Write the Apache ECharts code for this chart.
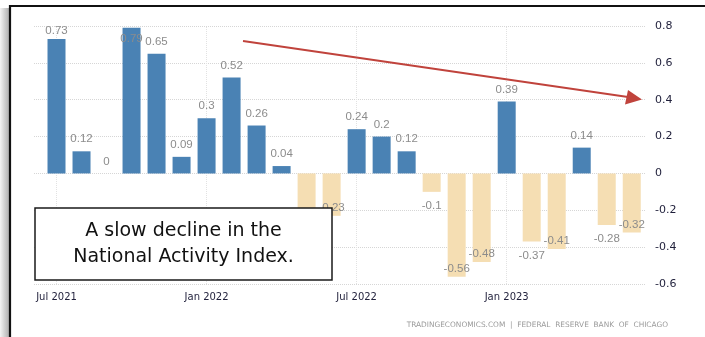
<!DOCTYPE html>
<html><head><meta charset="utf-8">
<script src="https://cdn.jsdelivr.net/npm/echarts@6/dist/echarts.min.js"></script>
<style>html,body{margin:0;padding:0;background:#fff}#c{width:705px;height:337px}</style>
</head><body><div id="c"></div>
<script>
const months = ['Jul 2021','Aug 2021','Sep 2021','Oct 2021','Nov 2021','Dec 2021',
  'Jan 2022','Feb 2022','Mar 2022','Apr 2022','May 2022','Jun 2022',
  'Jul 2022','Aug 2022','Sep 2022','Oct 2022','Nov 2022','Dec 2022',
  'Jan 2023','Feb 2023','Mar 2023','Apr 2023','May 2023','Jun 2023'];
const values = [0.73,0.12,0,0.79,0.65,0.09,0.3,0.52,0.26,0.04,-0.19,-0.23,
  0.24,0.2,0.12,-0.1,-0.56,-0.48,0.39,-0.37,-0.41,0.14,-0.28,-0.32];
const labelPos = ['top','top','top','insideTop','top','top','top','top','top','top','bottom','insideBottom',
  'top','top','top','bottom','insideBottom','insideBottom','top','bottom','insideBottom','top','bottom','insideBottom'];
const tickLabels = ['Jul 2021','Jan 2022','Jul 2022','Jan 2023'];
const yTicks = [-0.6,-0.4,-0.2,0,0.2,0.4,0.6,0.8];
const titleLines = ['A slow decline in the','National Activity Index.'];
const sourceText = 'TRADINGECONOMICS.COM  |  FEDERAL  RESERVE  BANK  OF  CHICAGO';

const chart = echarts.init(document.getElementById('c'));
const barData = values.map((v,i)=>{
  const pos = labelPos[i];
  let dist = 6;
  if (i===0) dist = 2;
  if (pos==='insideTop') dist = 5;
  if (pos==='insideBottom') dist = 2;
  if (pos==='bottom') dist = 8;
  return {
    value:[i,v],
    itemStyle:{color: v>=0 ? '#4a82b4' : '#f5deb3'},
    label:{position:pos, distance:dist}
  };
});
const vLines = tickLabels.map(t=>({xAxis: months.indexOf(t), label:{formatter:t}}));

chart.setOption({
  animation:false,
  backgroundColor:'transparent',
  grid:{left:34,right:60,top:26,bottom:53},
  xAxis:{type:'value',min:-0.9,max:23.53,show:false},
  yAxis:{type:'value',position:'right',min:-0.6,max:0.8,interval:0.2,
    axisLine:{show:false},axisTick:{show:false},
    axisLabel:{margin:10,color:'#1f1f3a',fontSize:11,fontFamily:'DejaVu Sans',
      formatter:v=>{const r=Math.round(v*10)/10; return yTicks.includes(r)? String(r):'';}},
    splitLine:{lineStyle:{color:'#d6d6d6',type:'dotted',width:1}}
  },
  series:[{
    type:'line',
    data:[],
    z:1,
    markLine:{
      silent:true,symbol:'none',z:0,
      lineStyle:{color:'#e2e2e2',type:'dotted',width:1},
      label:{position:'start',distance:8,color:'#1f1f3a',fontSize:10,fontFamily:'DejaVu Sans'},
      data:vLines
    }
  },{
    type:'bar',
    data:barData,
    barWidth:18,
    z:3,
    label:{show:true,color:'#8c8c8c',fontSize:11.5,fontFamily:'Liberation Sans',
      formatter:p=>String(p.value[1])}
  }],
  graphic:[
    {type:'rect',shape:{x:0,y:8,width:10,height:340},
      style:{fill:new echarts.graphic.LinearGradient(0,0,1,0,[{offset:0,color:'#f4f4f4'},{offset:1,color:'#a8a8a8'}])},z:-10,silent:true},
    {type:'rect',shape:{x:10,y:6,width:720,height:360},
      style:{fill:'none',stroke:'#111',lineWidth:2.2},z:50,silent:true},
    {type:'polyline',shape:{points:[[243,41],[628,97]]},
      style:{stroke:'#c0433c',lineWidth:2},z:40,silent:true},
    {type:'polygon',shape:{points:[[642,99.5],[625,104.5],[628,90]]},
      style:{fill:'#c0433c'},z:40,silent:true},
    {type:'rect',shape:{x:35,y:208,width:297,height:72},
      style:{fill:'#fff',stroke:'#1a1a1a',lineWidth:1.5},z:60,silent:true},
    {type:'text',x:183.5,y:231.5,style:{text:titleLines[0],fill:'#111',fontSize:19,fontFamily:'DejaVu Sans',align:'center',verticalAlign:'middle'},z:61,silent:true},
    {type:'text',x:183.5,y:257,style:{text:titleLines[1],fill:'#111',fontSize:19,fontFamily:'DejaVu Sans',align:'center',verticalAlign:'middle'},z:61,silent:true},
    {type:'text',x:668,y:325,style:{text:sourceText,fill:'#9a9a9a',fontSize:7.4,fontFamily:'DejaVu Sans',align:'right',verticalAlign:'middle'},z:61,silent:true}
  ]
});
</script></body></html>
